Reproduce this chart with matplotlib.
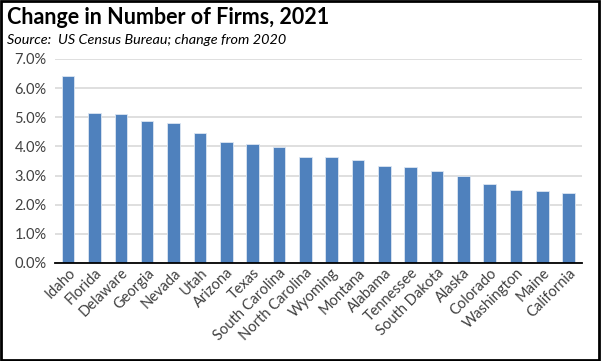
import matplotlib.pyplot as plt
from matplotlib.patches import Rectangle
from matplotlib.ticker import FuncFormatter

states = ['Idaho', 'Florida', 'Delaware', 'Georgia', 'Nevada', 'Utah', 'Arizona', 'Texas',
          'South Carolina', 'North Carolina', 'Wyoming', 'Montana', 'Alabama', 'Tennessee',
          'South Dakota', 'Alaska', 'Colorado', 'Washington', 'Maine', 'California']
change_pct = [6.41, 5.13, 5.11, 4.86, 4.80, 4.46, 4.15, 4.07, 3.97, 3.63,
              3.63, 3.53, 3.33, 3.28, 3.14, 3.00, 2.71, 2.52, 2.46, 2.41]
yticks = [0, 1, 2, 3, 4, 5, 6, 7]

plt.rcParams['font.family'] = ['Lato', 'DejaVu Sans']

fig = plt.figure(figsize=(6.01, 3.61), dpi=100)
ax = fig.add_axes([0.0915, 0.2715, 0.8765, 0.5651])

x = range(len(states))
ax.bar(x, change_pct, width=0.48, color='#4f81bd', edgecolor='#dce6f2', linewidth=0.6, zorder=3)

ax.set_ylim(0, 7)
ax.set_xlim(-0.5, len(states) - 0.5)
ax.set_yticks(yticks)
ax.yaxis.set_major_formatter(FuncFormatter(lambda v, p: f'{v:.1f}%'))
ax.grid(axis='y', color='#d9d9d9', linewidth=1.2, zorder=0)
ax.tick_params(axis='y', length=0, labelsize=10.5, colors='#404040', pad=6)
ax.tick_params(axis='x', length=0, labelsize=10.5, colors='#404040', pad=2)
ax.set_xticks(list(x))
ax.set_xticklabels(states, rotation=45, ha='right', rotation_mode='anchor')
for s in ['top', 'right', 'left']:
    ax.spines[s].set_visible(False)
ax.spines['bottom'].set_color('black')
ax.spines['bottom'].set_linewidth(1.3)
ax.spines['bottom'].set_zorder(4)

fig.text(0.012, 0.952, 'Change in Number of Firms, 2021', fontsize=15.5, fontweight='bold',
         va='center', ha='left', color='black')
fig.text(0.012, 0.888, 'Source:  US Census Bureau; change from 2020', fontsize=10.4,
         style='italic', va='center', ha='left', color='black')

fig.patches.append(Rectangle((0.002, 0.003), 0.995, 0.994, transform=fig.transFigure,
                             fill=False, edgecolor='black', linewidth=2))

fig.savefig('out.png', dpi=100)
